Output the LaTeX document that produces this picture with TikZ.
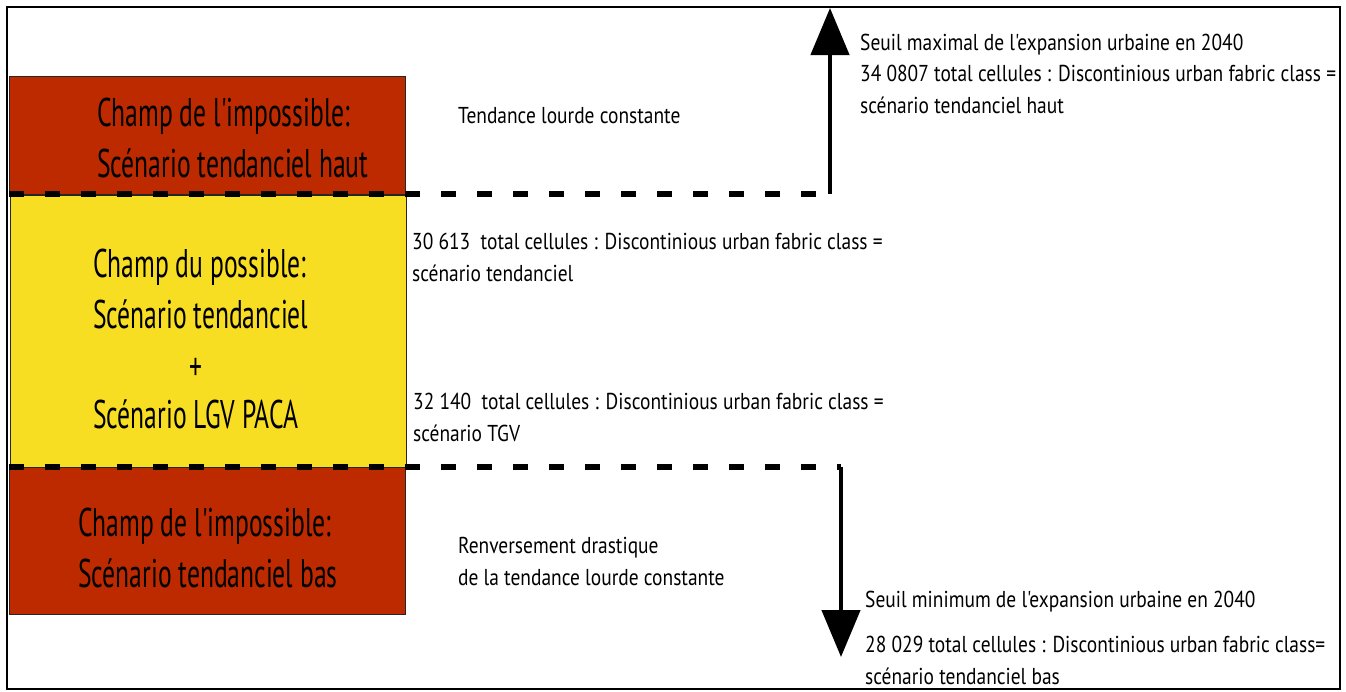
\documentclass[tikz,border=0pt]{standalone}
\usepackage{fontspec}
\setmainfont[FakeStretch=0.845, Ligatures=TeXOff]{PT Sans}
\newfontfamily\grandfont[FakeStretch=0.64, Ligatures=TeXOff]{PT Sans}
\usepackage{tikz}
\usetikzlibrary{arrows.meta}
\definecolor{rouge}{RGB}{190,42,0}
\definecolor{jaune}{RGB}{248,222,34}
\tikzset{g/.style={font=\grandfont\fontsize{40}{51}\selectfont, align=left, inner sep=0pt, anchor=base west}}
\tikzset{p/.style={font=\fontsize{23}{31.5}\selectfont, align=left, inner sep=0pt, anchor=base west}}
\tikzset{champ/.style={draw=black!85, line width=1.2pt, anchor=north west, inner sep=0pt, minimum width=396pt}}
\tikzset{seuil/.style={line width=6pt, dash pattern=on 15pt off 21pt}}
\tikzset{fleche/.style={line width=4.5pt, -{Triangle[width=38pt,length=47pt]}}}

\begin{document}
\begin{tikzpicture}[x=1pt,y=-1pt]
        \useasboundingbox (0,0) rectangle (1346,691);
        \draw[line width=2.5pt] (7,7) rectangle (1340,689);
        % les trois champs
        \node[champ, fill=rouge, minimum height=118pt] (haut) at (9,76) {};
        \node[champ, fill=jaune, minimum height=272pt] (possible) at (10,195) {};
        \node[champ, fill=rouge, minimum height=147pt] (bas) at (9,467) {};
        \node[g] (hautT) at (97,177) {Champ de l'impossible:\\Scénario tendanciel haut};
        \node[g] (possT) at (93,328) {Champ du possible:\\Scénario tendanciel};
        \node[g] (plus) at (189,380) {+};
        \node[g] (lgvT) at (93,428) {Scénario LGV PACA};
        \node[g] (basT) at (78,587) {Champ de l'impossible:\\Scénario tendanciel bas};
        % seuils
        \coordinate (s1) at (9,194);
        \coordinate (sup) at (830,194);
        \coordinate (supmax) at (830,8);
        \coordinate (s2) at (9,467);
        \coordinate (inf) at (841,467);
        \coordinate (infmin) at (841,657);
        \draw[seuil] (s1) -- (sup);
        \draw[seuil] (s2) -- (inf);
        \draw[fleche] (sup) -- (supmax);
        \draw[fleche] (inf) -- (infmin);
        % textes
        \node[p] (tendance) at (458,123) {Tendance lourde constante};
        \node[p] (tend) at (412,281) {30 613~~total cellules : Discontinious urban fabric class =\\scénario tendanciel};
        \node[p] (tgv) at (413,441) {32 140~~total cellules : Discontinious urban fabric class =\\scénario TGV};
        \node[p] (renv) at (458,585) {Renversement drastique\\de la tendance lourde constante};
        \node[p] (max) at (860,113) {Seuil maximal de l'expansion urbaine en 2040\\34 0807 total cellules : Discontinious urban fabric class =\\scénario tendanciel haut};
        \node[p] (min) at (865,607) {Seuil minimum de l'expansion urbaine en 2040};
        \node[p] (minT) at (865,684) {28 029 total cellules : Discontinious urban fabric class=\\scénario tendanciel bas};
\end{tikzpicture}
\end{document}
